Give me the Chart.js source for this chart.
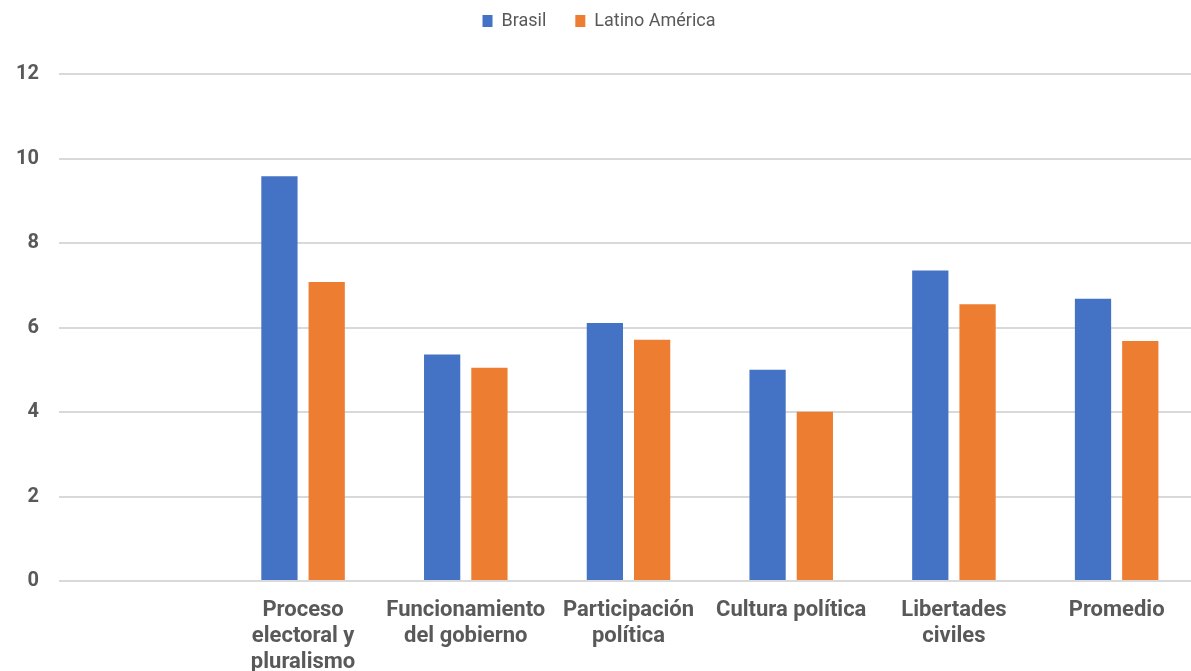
<!DOCTYPE html>
<html>
<head>
<meta charset="utf-8">
<script src="https://cdn.jsdelivr.net/npm/chart.js@4.4.1/dist/chart.umd.min.js"></script>
<style>
html,body{margin:0;padding:0;background:#fff;overflow:hidden;}
#wrap{position:relative;width:1199px;height:680px;}
</style>
</head>
<body>
<div id="wrap"><canvas id="chart"></canvas></div>
<script>
const categories = [
  "",
  ["Proceso", "electoral y", "pluralismo"],
  ["Funcionamiento", "del gobierno"],
  ["Participación", "política"],
  "Cultura política",
  ["Libertades", "civiles"],
  "Promedio"
];
const brasil = [null, 9.58, 5.36, 6.11, 5.00, 7.35, 6.68];
const latinoAmerica = [null, 7.08, 5.05, 5.71, 4.01, 6.55, 5.68];
const yTicks = [0, 2, 4, 6, 8, 10, 12];

const gray = "#595959";

new Chart(document.getElementById("chart"), {
  type: "bar",
  data: {
    labels: categories,
    datasets: [
      { label: "Brasil", data: brasil, backgroundColor: "#4472C4" },
      { label: "Latino América", data: latinoAmerica, backgroundColor: "#ED7D31" }
    ]
  },
  options: {
    responsive: true,
    maintainAspectRatio: false,
    animation: false,
    datasets: {
      bar: { categoryPercentage: 0.581, barPercentage: 0.767 }
    },
    layout: { padding: { top: -17, left: 0, right: 1, bottom: -3 } },
    plugins: {
      legend: {
        position: "top",
        labels: {
          boxWidth: 10,
          boxHeight: 12,
          padding: 29,
          color: gray,
          font: { family: "Roboto", size: 18 }
        }
      },
      // empty spacer between legend and plot
      title: {
        display: true,
        text: "",
        weight: 500,
        padding: 0,
        font: { size: 34, lineHeight: 1 }
      },
      tooltip: { enabled: false }
    },
    scales: {
      x: {
        grid: { display: false },
        border: { display: false },
        ticks: {
          color: gray,
          padding: 8,
          maxRotation: 0,
          autoSkip: false,
          font: { family: "Roboto", size: 22, weight: "bold", lineHeight: 1.18 }
        }
      },
      y: {
        min: yTicks[0],
        max: yTicks[yTicks.length - 1],
        afterFit: function(scale) { scale.width = 59; },
        grid: { color: "#d9d9d9", lineWidth: 2, drawTicks: false },
        border: { display: false },
        ticks: {
          stepSize: yTicks[1] - yTicks[0],
          color: gray,
          padding: 20,
          font: { family: "Roboto", size: 20, weight: "bold" }
        }
      }
    }
  }
});
</script>
</body>
</html>
